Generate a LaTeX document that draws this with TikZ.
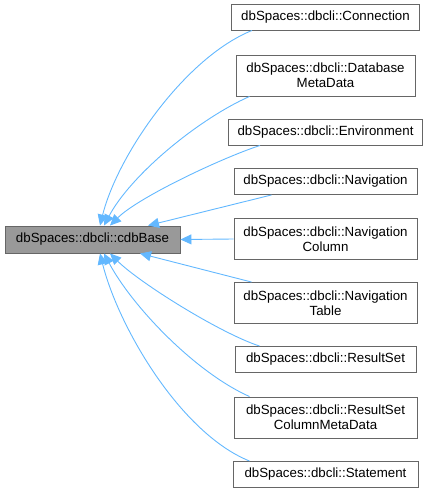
\documentclass[tikz,border=0pt]{standalone}
\usepackage{fontspec}
\setmainfont{Liberation Sans}
\usetikzlibrary{arrows.meta}
\definecolor{edgeblue}{HTML}{63B8FF}
\definecolor{basegray}{HTML}{999999}
\definecolor{framegray}{HTML}{666666}
\tikzset{
    cls/.style={draw=framegray, fill=white, line width=0.9pt, inner xsep=3pt, inner ysep=2pt,
        font=\fontsize{13.3}{15}\selectfont, align=center},
    basecls/.style={cls, fill=basegray},
    inh/.style={draw=edgeblue, line width=0.9pt, -{Triangle[length=11pt,width=10pt]}}
}
\begin{document}
\begin{tikzpicture}[x=1pt,y=1pt]
    \useasboundingbox (0,0) rectangle (428,-493);
    % base class
    \node[basecls, minimum width=175, minimum height=27] (base) at (92.5,-239.5) {dbSpaces::dbcli::cdbBase};
    % derived classes
    \foreach \nm/\py/\bw/\bh/\txt in {
        conn/17/188/26/{dbSpaces::dbcli::Connection},
        dbmeta/75.5/179/41/{dbSpaces::dbcli::Database\\MetaData},
        env/132/194/26/{dbSpaces::dbcli::Environment},
        nav/181.5/183/26/{dbSpaces::dbcli::Navigation},
        navcol/239/183/41/{dbSpaces::dbcli::Navigation\\Column},
        navtab/303/183/41/{dbSpaces::dbcli::Navigation\\Table},
        rset/359.5/181/26/{dbSpaces::dbcli::ResultSet},
        rsmeta/417.5/183/41/{dbSpaces::dbcli::ResultSet\\ColumnMetaData},
        stmt/474.5/185/26/{dbSpaces::dbcli::Statement}}{
        \node[cls, minimum width=\bw, minimum height=\bh] (\nm) at (325.5,-\py) {\txt};
    }
    % inheritance edges
    \draw[inh] ([xshift=21]conn.south west) to[out=202,in=76,looseness=0.75] ([xshift=7.5]base.north);
    \draw[inh] ([xshift=14]dbmeta.south west) to[out=204,in=62,looseness=0.75] ([xshift=11.5]base.north);
    \draw[inh] ([xshift=32]env.south west) to[out=198,in=45,looseness=0.6] ([xshift=17.5]base.north);
    \draw[inh] ([xshift=38]nav.south west) -- ([xshift=55.5]base.north);
    \draw[inh] (navcol.west) -- (base.east);
    \draw[inh] ([xshift=18]navtab.north west) -- ([xshift=47.5]base.south);
    \draw[inh] ([xshift=25]rset.north west) to[out=162,in=-45,looseness=0.6] ([xshift=17.5]base.south);
    \draw[inh] ([xshift=16]rsmeta.north west) to[out=156,in=-62,looseness=0.75] ([xshift=11.5]base.south);
    \draw[inh] ([xshift=17]stmt.north west) to[out=158,in=-76,looseness=0.75] ([xshift=7.5]base.south);
\end{tikzpicture}
\end{document}
